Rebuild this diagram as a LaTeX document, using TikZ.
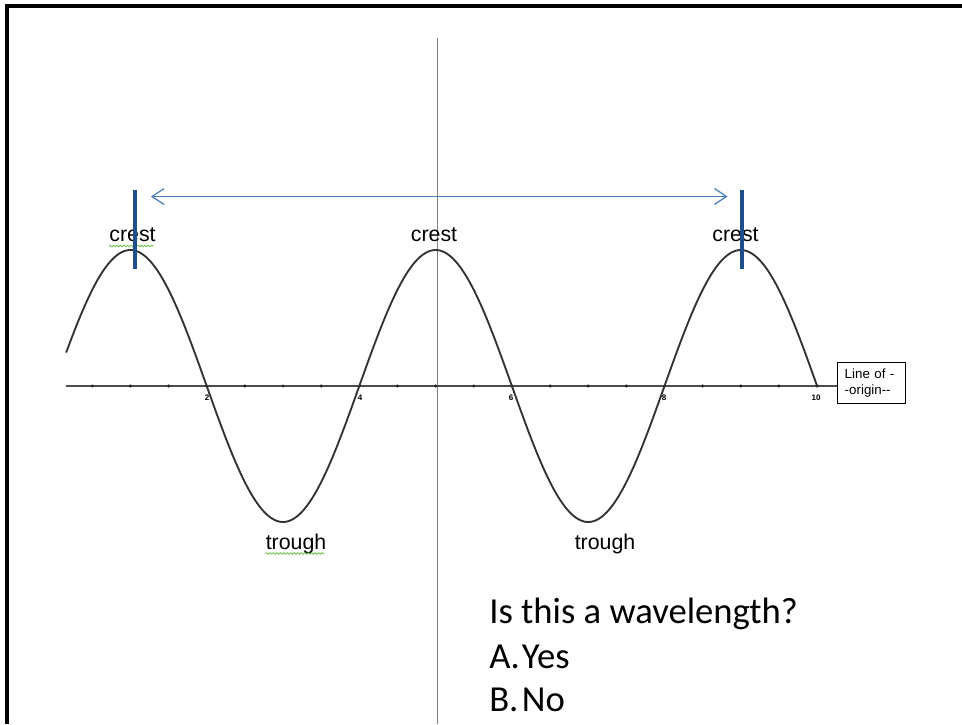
\documentclass[tikz,border=0pt]{standalone}
\usepackage{fontspec}
\setmainfont{Liberation Sans}
\newfontfamily\calibri{Carlito}
\usetikzlibrary{arrows.meta,decorations.pathmorphing}
\definecolor{arrowblue}{HTML}{4A7EBB}
\definecolor{barblue}{HTML}{1F4E8C}
\definecolor{squiggle}{HTML}{6CC24A}
\tikzset{
  frame/.style={line width=2.4pt,black},
  axisline/.style={line width=1.1pt,draw=black!70},
  vaxis/.style={line width=1.1pt,draw=black!50},
  waveline/.style={line width=1.4pt,draw=black!80},
  tickdot/.style={circle,fill=black!85,inner sep=0pt,minimum size=2.6pt},
  ticklabel/.style={font=\fontsize{6}{6}\selectfont\bfseries,inner sep=0pt},
  wordlabel/.style={font=\fontsize{16}{16}\selectfont,inner sep=0pt,anchor=base},
  barline/.style={line width=3pt,draw=barblue},
  span/.style={line width=0.9pt,draw=arrowblue,{Straight Barb[length=9pt,width=12pt]}-{Straight Barb[length=9pt,width=12pt]}},
  spell/.style={draw=squiggle,line width=0.6pt,decorate,decoration={snake,amplitude=0.6pt,segment length=2.6pt}},
  originbox/.style={draw=black,line width=0.6pt,fill=white,align=left,font=\fontsize{10}{12.5}\selectfont,inner xsep=5pt,inner ysep=3pt,minimum width=51pt,minimum height=31pt,text width=40pt},
  question/.style={font=\calibri\fontsize{27.5}{33}\selectfont,inner sep=0pt,anchor=base west}
}
\begin{document}
\begin{tikzpicture}[x=0.75pt,y=-0.75pt]
\useasboundingbox (0,0) rectangle (962,724);
% frame
\draw[frame] (7,724) -- (7,6) -- (962,6);
% vertical axis
\coordinate (vtop) at (437.5,38);
\coordinate (vbot) at (437.5,724);
\draw[vaxis] (vtop) -- (vbot);
% horizontal axis
\coordinate (hleft) at (66,386);
\node[originbox,anchor=west] (box) at (837,383) {Line of -\\\mbox{-}origin\mbox{-}\mbox{-}};
\draw[axisline] (hleft) -- (box.west |- hleft);
% ticks
\foreach \k in {1,...,20} {
  \node[tickdot] (t\k) at ({54.1+38.15*\k},386) {};
}
\foreach \v/\xx in {2/207,4/360,6/511,8/664,10/816} {
  \node[ticklabel] (lab\v) at (\xx,398) {\v};
}
% wave
\draw[waveline] plot[domain=0.158:10,samples=300,smooth] ({54.1+76.3*\x},{386-136*cos(90*(\x-1))});
% labels
\node[wordlabel] (c1) at (132.5,241.5) {crest};
\node[wordlabel] (c2) at (434,241.5) {crest};
\node[wordlabel] (c3) at (735.5,241.5) {crest};
\node[wordlabel] (tr1) at (296,549) {trough};
\node[wordlabel] (tr2) at (605,549) {trough};
\draw[spell] (c1.base west) ++(0,4.5) coordinate (s1a) -- ++(45,0) coordinate (s1b);
\draw[spell] (tr1.base west) ++(0,4.5) coordinate (s2a) -- ++(59,0) coordinate (s2b);
% bars
\coordinate (b1t) at (134.7,190);
\coordinate (b1b) at (134.7,269);
\coordinate (b2t) at (742,190);
\coordinate (b2b) at (742,269);
\draw[barline] (b1t) -- (b1b);
\draw[barline] (b2t) -- (b2b);
% span arrow
\coordinate (al) at (151,196.5);
\coordinate (ar) at (727.5,196.5);
\draw[span] (al) -- (ar);
% question
\node[question] (q1) at (489,623) {Is this a wavelength?};
\node[question] (q2) at (489,668) {\makebox[24.5pt][l]{A.}Yes};
\node[question] (q3) at (489,711) {\makebox[24.5pt][l]{B.}No};
\end{tikzpicture}
\end{document}
